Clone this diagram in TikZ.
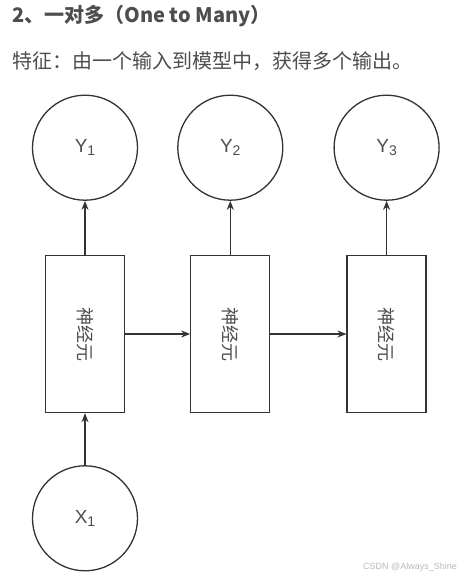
\documentclass[tikz,border=0pt]{standalone}
\usepackage{fontspec}
\setmainfont{Liberation Sans}
\newfontfamily\cjk{Noto Sans CJK SC}
\usepackage{xcolor}
\usetikzlibrary{arrows.meta,positioning}
\definecolor{linegray}{HTML}{333333}
\definecolor{textgray}{HTML}{4D4D4D}
\definecolor{markgray}{HTML}{B8B8B8}
\tikzset{%
	cell/.style    = {draw=linegray, line width=1.3pt, rectangle, minimum width=79pt, minimum height=157pt, inner sep=0pt, text=textgray, font=\cjk\fontsize{18}{18}\selectfont}, % neuron
	unit/.style    = {draw=linegray, line width=1.3pt, circle, minimum size=105pt, inner sep=0pt, text=textgray, font=\fontsize{19}{19}\selectfont}, % input / output
	heading/.style = {anchor=west, inner sep=0pt, text=textgray, font=\cjk\bfseries\fontsize{20}{20}\selectfont},
	plain/.style   = {anchor=west, inner sep=0pt, text=textgray, font=\cjk\fontsize{20}{20}\selectfont},
	arrow/.style   = {draw=linegray, line width=1.3pt, -{Stealth[length=9pt,width=7pt]}},
	idx/.style     = {font=\fontsize{14}{14}\selectfont},
}
\newcommand{\lowidx}[1]{\raisebox{-0.35ex}{\fontsize{14}{14}\selectfont #1}}

\begin{document}
\begin{tikzpicture}[node distance = 55pt]
	\useasboundingbox (0,0) rectangle (460pt,-579pt);
	\node[heading] (title) at (12pt,-16pt) {2、一对多（One to Many）};
	\node[plain] (desc) at (12pt,-61pt) {特征：由一个输入到模型中，获得多个输出。};
	
	\node[cell] (cell1) at (85pt,-334pt) {\rotatebox{-90}{神经元}};
	\node[cell,right=65pt of cell1] (cell2) {\rotatebox{-90}{神经元}};
	\node[cell,right=76pt of cell2] (cell3) {\rotatebox{-90}{神经元}};
	\node[unit,above=54pt of cell1] (y1) {Y\lowidx{1}};
	\node[unit,above=54pt of cell2] (y2) {Y\lowidx{2}};
	\node[unit,above=54pt of cell3] (y3) {Y\lowidx{3}};
	\node[unit,below=52pt of cell1] (x1) {X\lowidx{1}};
	
	\draw[arrow] (x1) -- (cell1);
	\draw[arrow] (cell1) -- (cell2);
	\draw[arrow] (cell2) -- (cell3);
	\draw[arrow] (cell1) -- (y1);
	\draw[arrow] (cell2) -- (y2);
	\draw[arrow] (cell3) -- (y3);
	
	\node[anchor=east, inner sep=0pt, text=markgray, font=\fontsize{9}{9}\selectfont] (mark) at (457pt,-567pt) {CSDN @Always\_Shine};
\end{tikzpicture}
\end{document}
